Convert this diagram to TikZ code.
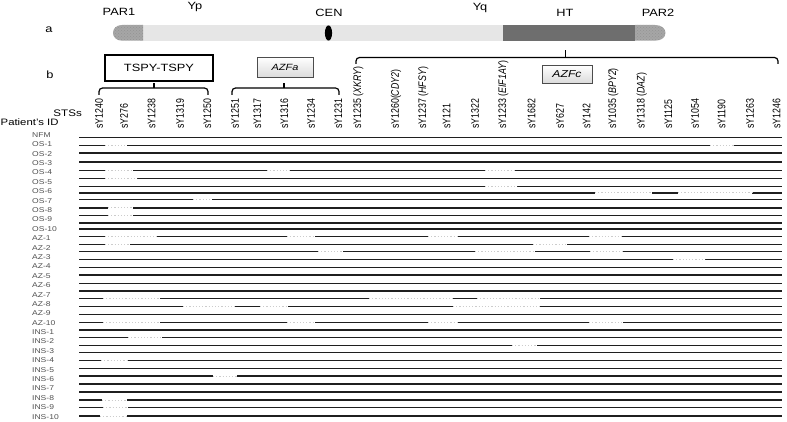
\documentclass[tikz,border=0pt]{standalone}
\usepackage{fontspec}
\setmainfont{Liberation Sans}[FakeStretch=1.22]
\newfontfamily\stsfont{Liberation Sans}[FakeStretch=0.8]
\usetikzlibrary{patterns}
\definecolor{bodyc}{HTML}{E6E6E6}
\definecolor{parc}{HTML}{A6A6A6}
\definecolor{htc}{HTML}{6E6E6E}
\definecolor{labc}{HTML}{505050}
\begin{document}
\begin{tikzpicture}[x=1pt,y=-1pt,
  rowline/.style={line width=1.1pt, black!88},
  delseg/.style={line width=1pt, gray!40, dash pattern=on 1.2pt off 2pt},
  eraser/.style={line width=2.2pt, white},
  hdr/.style={font=\fontsize{10.5}{12}\selectfont, inner sep=0},
  sts/.style={font=\stsfont\fontsize{11}{12}\selectfont, rotate=90, anchor=west, inner sep=0},
  pid/.style={font=\fontsize{7}{8}\selectfont, text=labc, anchor=west, inner sep=0},
  bracket/.style={line width=1.2pt, rounded corners=3.5pt},
  azbox/.style={draw=black!70, line width=0.6pt, top color=white, bottom color=gray!28, inner sep=0},
]
\useasboundingbox (0,0) rectangle (787,422);

% ---------- chromosome ----------
\fill[bodyc] (140,25) rectangle (505,40.7);
\fill[parc] (143,25) -- (122,25) .. controls (110,25) and (110,40.7) .. (122,40.7) -- (143,40.7) -- cycle;
\fill[pattern=crosshatch dots, pattern color=gray!85] (143,25) -- (122,25) .. controls (110,25) and (110,40.7) .. (122,40.7) -- (143,40.7) -- cycle;
\fill[htc] (503,25) rectangle (635,40.7);
\fill[parc] (635,25) -- (655,25) .. controls (669,25) and (669,40.7) .. (655,40.7) -- (635,40.7) -- cycle;
\fill[pattern=crosshatch dots, pattern color=gray!85] (635,25) -- (655,25) .. controls (669,25) and (669,40.7) .. (655,40.7) -- (635,40.7) -- cycle;
\fill[black] (328.5,33) ellipse (3.6 and 7.6);

% ---------- header labels ----------
\node[hdr] (la) at (49,30) {a};
\node[hdr] (lb) at (50,74.5) {b};
\node[hdr] (par1) at (119,12) {PAR1};
\node[hdr] (yp) at (195,7) {Yp};
\node[hdr] (cen) at (329,12.5) {CEN};
\node[hdr] (yq) at (480,7.5) {Yq};
\node[hdr] (ht) at (565,12.5) {HT};
\node[hdr] (par2) at (658,12.5) {PAR2};

% ---------- region boxes ----------
\node[draw, line width=1.5pt, minimum width=108pt, minimum height=26pt, inner sep=0,
      font=\fontsize{10.5}{12}\selectfont] (tspy) at (159,68) {TSPY-TSPY};
\node[azbox, minimum width=56pt, minimum height=20pt,
      font=\fontsize{9}{11}\selectfont\itshape] (azfa) at (285,67) {AZFa};
\node[azbox, minimum width=50pt, minimum height=18pt,
      font=\fontsize{10}{12}\selectfont\itshape] (azfc) at (567,74) {AZFc};

% ---------- brackets ----------
\draw[bracket] (99,95) -- (99,88) -- (208,88) -- (208,95);
\draw[line width=1.2pt] (154,88) -- (154,83);
\draw[bracket] (232,95) -- (232,88) -- (339,88) -- (339,95);
\draw[line width=1.2pt] (284,88) -- (284,83);
\draw[bracket] (356,64) -- (356,57.5) -- (778,57.5) -- (778,64);
\draw[line width=1.2pt] (565.5,57.5) -- (565.5,50);

% ---------- STS labels ----------
\node[sts] (s1) at (99,129) {sY1240};
\node[sts] (s2) at (124,129) {sY276};
\node[sts] (s3) at (151.7,129) {sY1238};
\node[sts] (s4) at (180,129) {sY1319};
\node[sts] (s5) at (207.3,129) {sY1250};
\node[sts] (s6) at (235,129) {sY1251};
\node[sts] (s7) at (257.3,129) {sY1317};
\node[sts] (s8) at (284.3,129) {sY1316};
\node[sts] (s9) at (311,129) {sY1234};
\node[sts] (s10) at (338.3,129) {sY1231};
\node[sts] (s11) at (358.3,129) {sY1235 (\textit{XKRY})};
\node[sts] (s12) at (396,129) {sY1260(\textit{CDY2})};
\node[sts] (s13) at (423.3,129) {sY1237 (\textit{HFSY})};
\node[sts] (s14) at (446.7,129) {sY121};
\node[sts] (s15) at (475,129) {sY1322};
\node[sts] (s16) at (503.3,129) {sY1233 (\textit{EIF1AY})};
\node[sts] (s17) at (531.7,129) {sY1682};
\node[sts] (s18) at (560,129) {sY627};
\node[sts] (s19) at (586.7,129) {sY142};
\node[sts] (s20) at (613.3,129) {sY1035 (\textit{BPY2})};
\node[sts] (s21) at (641.7,129) {sY1318 (\textit{DAZ})};
\node[sts] (s22) at (668.3,129) {sY1125};
\node[sts] (s23) at (695,129) {sY1054};
\node[sts] (s24) at (721.7,129) {sY1190};
\node[sts] (s25) at (750,129) {sY1263};
\node[sts] (s26) at (776.7,129) {sY1246};

\node[font=\fontsize{9.5}{11}\selectfont, anchor=east, inner sep=0] (ststitle) at (82,113.5) {STSs};
\node[font=\fontsize{9.3}{11}\selectfont, anchor=west, inner sep=0] (pidtitle) at (0.5,122) {Patient's ID};

% ---------- patient labels ----------
\foreach \t [count=\i from 0] in {NFM,OS-1,OS-2,OS-3,OS-4,OS-5,OS-6,OS-7,OS-8,OS-9,OS-10,
  AZ-1,AZ-2,AZ-3,AZ-4,AZ-5,AZ-6,AZ-7,AZ-8,AZ-9,AZ-10,
  INS-1,INS-2,INS-3,INS-4,INS-5,INS-6,INS-7,INS-8,INS-9,INS-10}
  \node[pid] (p\i) at (32,{135+\i*9.39}) {\t};

% ---------- rows ----------
\foreach \y in {137.3,145.3,153,162,170.7,178.7,186.3,193,199.7,208,215.3,223,229,
  236.7,244.3,251.7,259.3,267.3,275,283.3,291,298.3,306.7,314.3,322.3,330,337.7,
  345.3,352.7,360.5,368.5,376,384,392,400,407.5,416}
  \draw[rowline] (79,\y) -- (782,\y);

% ---------- deleted segments ----------
\foreach \y/\a/\b in {145.3/105/127, 145.3/710/734,
  170.7/105/133, 170.7/267/290, 170.7/485/515,
  178.7/105/137, 186.3/485/517,
  193/595/652, 193/678/752,
  199.7/193/212, 208/108/133, 215.3/108/133,
  236.7/105/157, 236.7/287/315, 236.7/428/457, 236.7/589/622,
  244.3/105/130, 244.3/533/567,
  251.7/318/343, 251.7/475/535, 251.7/590/623,
  259.3/673/705,
  298.3/103/160, 298.3/369/453, 298.3/477/540,
  306.7/183/235, 306.7/260/288, 306.7/453/540,
  322.3/103/160, 322.3/287/315, 322.3/428/457, 322.3/589/623,
  337.7/128/162, 345.3/512/537, 360.5/101/127, 376/213/237,
  400/102/127, 407.5/103/128, 416/100/127}
{
  \draw[eraser] (\a,\y) -- (\b,\y);
  \draw[delseg] (\a,\y) -- (\b,\y);
}
\end{tikzpicture}
\end{document}
